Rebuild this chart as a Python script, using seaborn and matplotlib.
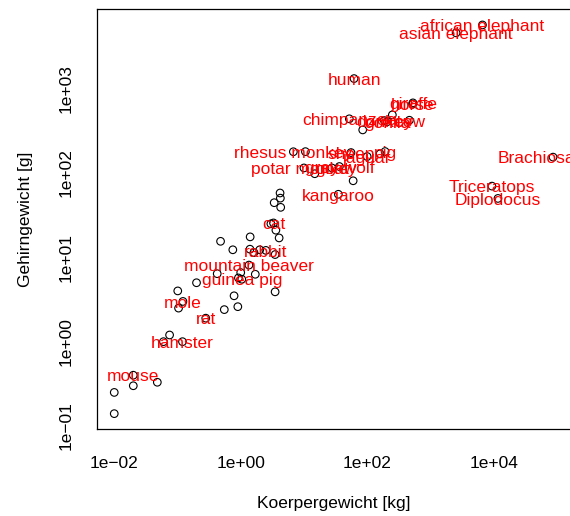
import numpy as np
import pandas as pd
import matplotlib
matplotlib.use("Agg")
import matplotlib.pyplot as plt
import seaborn as sns

# Body weight [kg] and brain weight [g] of mammals plus three dinosaurs
body_kg = [3.385, 0.48, 1.35, 465, 36.33, 27.66, 14.83, 1.04, 4.19, 0.425,
           0.101, 0.92, 1.0, 0.01, 0.06, 3.5, 2.0, 1.7, 2547, 0.02,
           187.1, 521, 0.785, 10.0, 3.3, 0.2, 1.41, 529, 207, 85,
           0.75, 62, 6654, 3.5, 6.8, 35, 4.05, 0.12, 0.02, 0.01,
           1.4, 250, 2.5, 55.5, 100, 52.16, 10.55, 0.55, 60, 3.6,
           4.288, 0.28, 0.075, 0.122, 0.048, 192, 3.0, 160, 0.9, 1.62,
           0.104, 4.235, 9400, 11700, 87000]
brain_g = [44.5, 15.5, 8.1, 423, 119.5, 115, 98.2, 5.5, 58, 6.4,
           4.0, 5.7, 6.6, 0.14, 1.0, 10.8, 12.3, 6.3, 4603, 0.3,
           419, 655, 3.5, 115, 25.6, 5.0, 17.5, 680, 406, 325,
           12.3, 1320, 5712, 3.9, 179, 56, 17, 1.0, 0.4, 0.25,
           12.5, 490, 12.1, 175, 157, 440, 179.5, 2.4, 81, 21,
           39.2, 1.9, 1.2, 3.0, 0.33, 180, 25, 169, 2.6, 11.4,
           2.5, 50.4, 70, 50, 154.5]

# Labelled species
names = ["mountain beaver", "cow", "grey wolf", "goat", "guinea pig",
         "Diplodocus", "asian elephant", "donkey", "horse", "potar monkey",
         "cat", "giraffe", "gorilla", "human", "african elephant",
         "Triceratops", "rhesus monkey", "kangaroo", "hamster", "mouse",
         "rabbit", "sheep", "jaguar", "chimpanzee", "rat",
         "Brachiosaurus", "mole", "pig"]
name_body = [1.35, 465, 36.33, 27.66, 1.04, 11700, 2547, 187.1, 521, 10.0,
             3.3, 529, 207, 62, 6654, 9400, 6.8, 35, 0.12, 0.02,
             2.5, 55.5, 100, 52.16, 0.28, 87000, 0.122, 192]
name_brain = [8.1, 423, 119.5, 115, 5.5, 50, 4603, 419, 655, 115,
              25.6, 680, 406, 1320, 5712, 70, 179, 56, 1.0, 0.4,
              12.1, 175, 157, 440, 1.9, 154.5, 3.0, 180]

x_ticks = [1e-2, 1e0, 1e2, 1e4]
x_ticklabels = ["1e\u221202", "1e+00", "1e+02", "1e+04"]
y_ticks = [1e-1, 1e0, 1e1, 1e2, 1e3]
y_ticklabels = ["1e\u221201", "1e+00", "1e+01", "1e+02", "1e+03"]

sns.set_style("white")
plt.rcParams["font.family"] = ["Liberation Sans", "DejaVu Sans"]
plt.rcParams["font.size"] = 12.5

df = pd.DataFrame({"body": body_kg, "brain": brain_g})
labels = pd.DataFrame({"name": names, "body": name_body, "brain": name_brain})

fig = plt.figure(figsize=(5.70, 5.16), dpi=100)
W, H = 570, 516
left, right, top, bottom = 96.7, 570.6, 9.4, 429.2
ax = fig.add_axes([left / W, 1 - bottom / H, (right - left) / W, (bottom - top) / H])

sns.scatterplot(data=df, x="body", y="brain", ax=ax, marker="o", s=30,
                facecolors="none", edgecolor="black", linewidth=0.8)

for _, r in labels.iterrows():
    ax.annotate(r["name"], (r["body"], r["brain"]), xytext=(0, -4.5),
                textcoords="offset points", ha="center", va="baseline",
                color="#ff0000", fontsize=12.5, clip_on=False)

ax.set_xscale("log")
ax.set_yscale("log")

# 4% padding on each side in log space
def padded(vals):
    lo, hi = np.log10(min(vals)), np.log10(max(vals))
    p = 0.04 * (hi - lo)
    return 10 ** (lo - p), 10 ** (hi + p)

ax.set_xlim(*padded(body_kg))
ax.set_ylim(*padded(brain_g))

ax.set_xticks(x_ticks)
ax.set_xticklabels(x_ticklabels)
ax.set_yticks(y_ticks)
ax.set_yticklabels(y_ticklabels, rotation=90, va="center")
ax.minorticks_off()
ax.tick_params(axis="both", which="major", direction="out", length=8,
               width=0.8, color="black", labelsize=12.5, labelcolor="black")
ax.tick_params(axis="x", pad=11)
ax.tick_params(axis="y", pad=8.5)

for s in ax.spines.values():
    s.set_color("black")
    s.set_linewidth(0.9)

ax.set_xlabel("Koerpergewicht [kg]", fontsize=12.5, labelpad=18, color="black")
ax.set_ylabel("Gehirngewicht [g]", fontsize=12.5, labelpad=18.5, color="black")

fig.savefig("out.png", dpi=100)
